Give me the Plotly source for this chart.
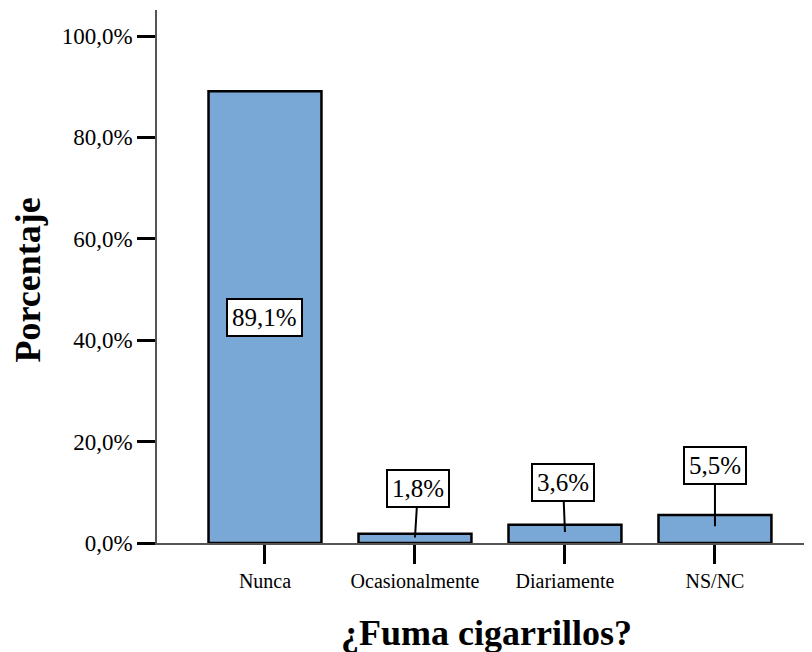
import plotly.graph_objects as go

categories = ["Nunca", "Ocasionalmente", "Diariamente", "NS/NC"]
values = [89.1, 1.8, 3.6, 5.5]
value_labels = ["89,1%", "1,8%", "3,6%", "5,5%"]
y_tickvals = [0, 20, 40, 60, 80, 100]
y_ticktext = ["0,0%", "20,0%", "40,0%", "60,0%", "80,0%", "100,0%"]

FONT = "Liberation Serif"
xpos = list(range(len(categories)))

fig = go.Figure()
fig.add_trace(go.Bar(
    x=xpos, y=values, width=0.753,
    marker=dict(color="#7AA8D6", line=dict(color="black", width=2.5)),
    hoverinfo="skip",
))

# label offsets (pixels) for small bars: box above bar with leader line
offsets = {1: (3, -49), 2: (-2, -50), 3: (0, -61)}
for i, (v, t) in enumerate(zip(values, value_labels)):
    common = dict(bgcolor="white", bordercolor="black", borderwidth=2, borderpad=4,
                  font=dict(family=FONT, size=25, color="black"))
    if i in offsets:
        ax, ay = offsets[i]
        fig.add_annotation(x=xpos[i], y=v * 0.6, text=t, showarrow=True, arrowhead=0,
                           arrowwidth=2, arrowcolor="black", ax=ax, ay=ay, **common)
    else:
        fig.add_annotation(x=xpos[i], y=v / 2, text=t, showarrow=False, **common)

# page has an 8px body margin; figure sized to fill the rest
W, H = 804, 644
L, R, T, B = 149, 0, 2, 109
pw, ph = W - L - R, H - T - B

fig.add_annotation(
    xref="paper", yref="paper", x=(479 - L) / pw, y=(H - B - 625) / ph,
    text="<b>¿Fuma cigarrillos?</b>", showarrow=False,
    font=dict(family=FONT, size=36, color="black"), xanchor="center", yanchor="middle",
)
fig.add_annotation(
    xref="paper", yref="paper", x=(19.5 - L) / pw, y=(H - B - 272) / ph,
    text="<b>Porcentaje</b>", showarrow=False, textangle=-90, borderpad=0,
    font=dict(family=FONT, size=36, color="black"), xanchor="center", yanchor="middle",
)

fig.update_layout(
    width=W, height=H,
    margin=dict(l=L, r=R, t=T, b=B, pad=0),
    plot_bgcolor="white", paper_bgcolor="white",
    showlegend=False,
    font=dict(family=FONT, color="black"),
    xaxis=dict(
        range=[-0.72, 3.647], tickmode="array", tickvals=xpos, ticktext=categories,
        showgrid=False, zeroline=False, showline=True, linecolor="#555555", linewidth=1.5,
        ticks="outside", ticklen=19, tickwidth=2.5, tickcolor="black",
        tickfont=dict(family=FONT, size=20, color="black"),
        fixedrange=True,
    ),
    yaxis=dict(
        range=[0, 105.13], tickmode="array", tickvals=y_tickvals, ticktext=y_ticktext,
        showgrid=False, zeroline=False, showline=True, linecolor="#555555", linewidth=1.5,
        ticks="outside", ticklen=18, tickwidth=2.5, tickcolor="black",
        tickfont=dict(family=FONT, size=23, color="black"),
        fixedrange=True,
    ),
)

fig.write_html("out.html")
